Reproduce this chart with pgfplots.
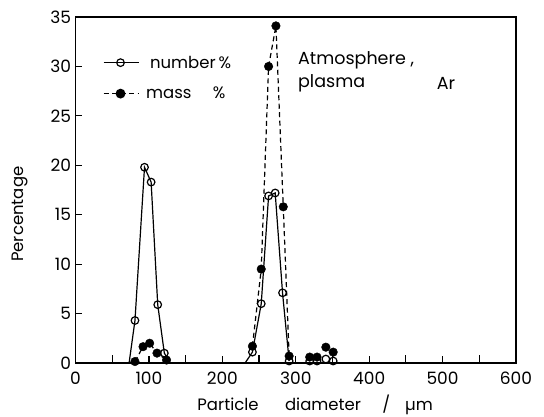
\documentclass[border=0pt]{standalone}
\usepackage{fontspec}
\setmainfont{Poppins}
\usepackage{pgfplots}
\pgfplotsset{compat=1.18}
\newcommand\f{\fontsize{16.5}{19}\selectfont}

\begin{document}
\begin{tikzpicture}
\path[use as bounding box] (-75.5pt,-53pt) rectangle (468.5pt,363pt);
\begin{axis}[
  at={(0,0)},anchor=south west,
  scale only axis,width=440.5pt,height=346pt,
  xmin=0,xmax=600,ymin=0,ymax=35,
  xtick={0,100,...,600},minor xtick={50,150,...,550},
  ytick={0,5,...,35},
  tick pos=left,tick align=inside,
  major tick length=7pt,minor tick length=8pt,
  axis line style={line width=1.4pt},
  every tick/.style={black,line width=1.2pt},
  /pgf/number format/assume math mode=true,
  tick label style={font=\fontsize{17}{19}\selectfont},
  xticklabel style={yshift=-5pt},
  yticklabel style={xshift=-1pt},
  xlabel={Particle\hspace{1.6em}diameter\hspace{1.3em}/\hspace{0.9em}µm},
  ylabel={Percentage},
  every axis x label/.style={at={(axis description cs:0.544,-0.121)},anchor=center,font=\f},
  every axis y label/.style={at={(axis description cs:-0.126,0.43)},rotate=90,anchor=center,font=\f},
  legend style={draw=none,fill=none,font=\f,at={(axis description cs:0.055,0.9)},anchor=north west,
    row sep=13.5pt,cells={anchor=west}},
  legend cell align=left,
  clip=false,
]
% legend entries
\addlegendimage{black,line width=1.2pt,mark=o,mark size=3.8pt,mark options={solid,fill=white},
  legend image code/.code={\draw[mark repeat=2,mark phase=2] plot coordinates {(0pt,0pt)(17pt,0pt)(35pt,0pt)};}}
\addlegendentry{\hspace{9pt}number\,\%}
\addlegendimage{black,line width=1.2pt,dash pattern=on 5pt off 3.5pt,mark=*,mark size=4.3pt,mark options={solid},
  legend image code/.code={\draw[mark repeat=2,mark phase=2] plot coordinates {(0pt,0pt)(17pt,0pt)(35pt,0pt)};}}
\addlegendentry{\hspace{5pt}mass\hspace{1.3em}\%}

% number % : lines (with unmarked tails to zero)
\addplot[black,line width=1.2pt,forget plot] coordinates {(73,0)(81,4.3)(94,19.8)(103,18.3)(112,5.9)(121,1.0)(129,0)};
\addplot[black,line width=1.2pt,forget plot] coordinates {(231,0)(241,1.1)(253,6.0)(263,16.9)(272,17.2)(282,7.1)(291,0.2)};
% mass % : lines
\addplot[black,line width=1.2pt,dash pattern=on 5pt off 3.5pt,forget plot] coordinates {(81,0.15)(92,1.65)(101,2.0)(111,1.0)(124,0.3)};
\addplot[black,line width=1.2pt,dash pattern=on 5pt off 3.5pt,forget plot] coordinates {(241,1.7)(253,9.5)(263,30.0)(273,34.1)(283,15.8)(291,0.7)};

% mass % : filled markers
\addplot[only marks,mark=*,mark size=4.3pt,black,forget plot] coordinates {
  (81,0.15)(92,1.65)(101,2.0)(111,1.0)(124,0.3)
  (241,1.7)(253,9.5)(263,30.0)(273,34.1)(283,15.8)(291,0.7)
  (319,0.6)(329,0.6)(341,1.6)(351,1.1)};
% number % : open markers
\addplot[only marks,mark=o,mark size=3.8pt,line width=1.2pt,black,mark options={fill=white},forget plot] coordinates {
  (81,4.3)(94,19.8)(103,18.3)(112,5.9)(121,1.0)
  (241,1.1)(253,6.0)(263,16.9)(272,17.2)(282,7.1)(291,0.2)
  (319,0.2)(329,0.2)(341,0.4)(351,0.2)};

\node[anchor=west,font=\fontsize{17.5}{20}\selectfont,inner sep=0pt] at (axis cs:303,30.6) {Atmosphere ,};
\node[anchor=west,font=\fontsize{17.5}{20}\selectfont,inner sep=0pt] at (axis cs:303,28.3) {plasma};
\node[anchor=west,font=\fontsize{17.5}{20}\selectfont,inner sep=0pt] at (axis cs:492,28.3) {Ar};
\end{axis}
\end{tikzpicture}
\end{document}
